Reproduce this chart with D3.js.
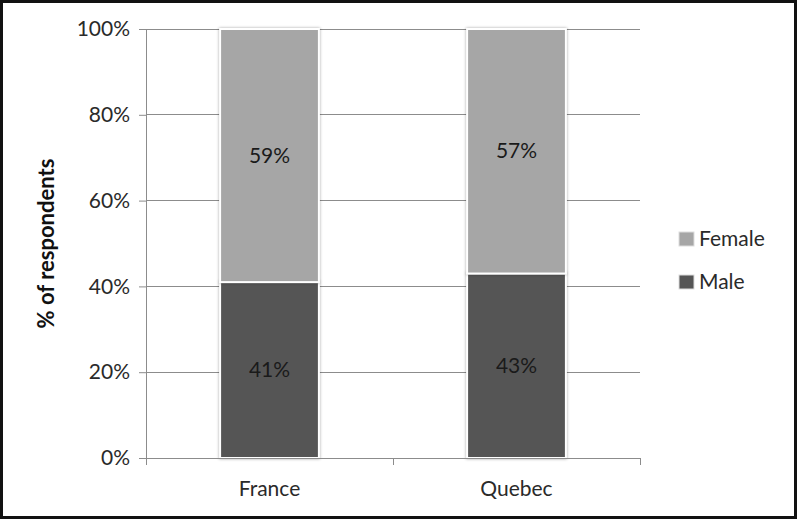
<!DOCTYPE html>
<html><head><meta charset="utf-8">
<script src="https://cdn.jsdelivr.net/npm/d3@7"></script>
<style>body{margin:0;background:#fff}svg{display:block}</style>
</head><body>
<svg id="c" width="797" height="519"></svg>
<script>
const categories = ["France", "Quebec"];
const seriesNames = ["Male", "Female"];
const male = [41, 43];
const female = [59, 57];
const yTicks = [0, 20, 40, 60, 80, 100];
const colors = {Male: "#555555", Female: "#a6a6a6"};

const svg = d3.select("#c");
const W = 797, H = 519;
const font = "Lato, 'Open Sans', sans-serif";
const fs = 21;
const txt = "#2a2a2a";
svg.append("rect").attr("x", 1.5).attr("y", 1.5).attr("width", W - 3).attr("height", H - 3)
  .attr("fill", "#fff").attr("stroke", "#111").attr("stroke-width", 3);

const m = {l: 146, r: 640, t: 29, b: 458};
const x = d3.scaleBand().domain(categories).range([m.l, m.r]).paddingInner(0.6).paddingOuter(0.3);
const y = d3.scaleLinear().domain([0, 100]).range([m.b, m.t]);

// gridlines
svg.append("g").selectAll("line").data(yTicks.slice(1)).join("line")
  .attr("x1", m.l).attr("x2", m.r).attr("y1", d => y(d)).attr("y2", d => y(d))
  .attr("stroke", "#8c8c8c").attr("stroke-width", 1).attr("shape-rendering", "crispEdges");

// y axis
const ya = svg.append("g").attr("transform", `translate(${m.l},0)`)
  .call(d3.axisLeft(y).tickValues(yTicks).tickSize(7).tickFormat(d => d + "%"));
ya.select(".domain").attr("stroke", "#8c8c8c");
ya.selectAll(".tick line").attr("stroke", "#8c8c8c");
ya.selectAll("text").attr("font-family", font).attr("font-size", fs).attr("fill", txt).attr("dx", -6);

// stacked data
const data = categories.map((c, i) => ({cat: c, Male: male[i], Female: female[i]}));
const stack = d3.stack().keys(seriesNames)(data);

const gb = svg.append("g");
stack.forEach(s => {
  gb.selectAll(null).data(s).join("rect")
    .attr("x", d => x(d.data.cat)).attr("width", x.bandwidth())
    .attr("y", d => y(d[1])).attr("height", d => y(d[0]) - y(d[1]))
    .attr("fill", colors[s.key]).attr("stroke", "#fff").attr("stroke-width", 2)
    .style("filter", "drop-shadow(0px 0px 1.5px rgba(0,0,0,0.35))");
});
stack.forEach(s => {
  gb.selectAll(null).data(s).join("text")
    .attr("x", d => x(d.data.cat) + x.bandwidth() / 2)
    .attr("y", d => (y(d[0]) + y(d[1])) / 2 + 7)
    .attr("text-anchor", "middle").attr("font-family", font).attr("font-size", fs)
    .attr("fill", "#1a1a1a").text(d => d.data[s.key] + "%");
});

// x axis
const xa = svg.append("g").attr("transform", `translate(0,${m.b})`);
xa.append("line").attr("x1", m.l).attr("x2", m.r).attr("stroke", "#8c8c8c").attr("shape-rendering", "crispEdges");
const bounds = [m.l, (m.l + m.r) / 2, m.r];
xa.selectAll(".xt").data(bounds).join("line").attr("x1", d => d).attr("x2", d => d)
  .attr("y1", 0).attr("y2", 7).attr("stroke", "#8c8c8c").attr("shape-rendering", "crispEdges");
xa.selectAll("text").data(categories).join("text")
  .attr("x", d => x(d) + x.bandwidth() / 2).attr("y", 38)
  .attr("text-anchor", "middle").attr("font-family", font).attr("font-size", fs).attr("fill", txt).text(d => d);

// y title
svg.append("text").attr("transform", `translate(54,${(m.t + m.b) / 2}) rotate(-90)`)
  .attr("text-anchor", "middle").attr("font-family", font).attr("font-weight", "bold")
  .attr("font-size", 22).attr("fill", "#111").text("% of respondents");

// legend
const legendItems = ["Female", "Male"];
const lg = svg.append("g");
legendItems.forEach((k, i) => {
  const yy = 239 + i * 43;
  lg.append("rect").attr("x", 679).attr("y", yy - 7).attr("width", 15).attr("height", 14)
    .attr("fill", colors[k]).attr("stroke", "#ddd").attr("stroke-width", 1);
  lg.append("text").attr("x", 699).attr("y", yy + 7).attr("font-family", font).attr("font-size", fs)
    .attr("fill", txt).text(k);
});
</script>
</body></html>
